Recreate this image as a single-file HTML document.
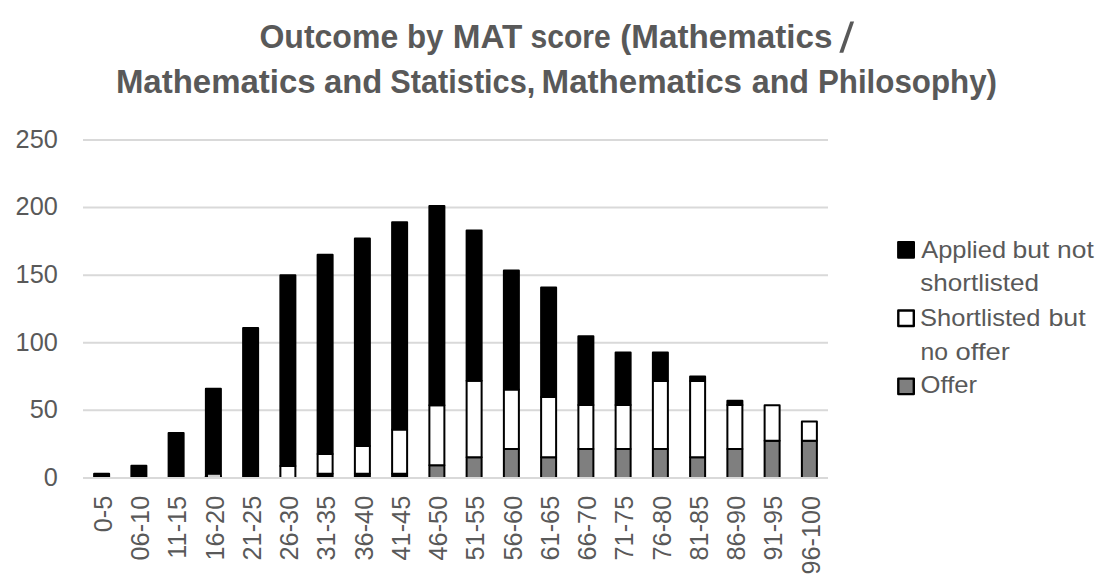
<!DOCTYPE html>
<html><head><meta charset="utf-8"><style>
html,body{margin:0;padding:0;background:#fff;width:1111px;height:576px;overflow:hidden}
svg{display:block}
text{font-family:"Liberation Sans",sans-serif;fill:#595959}
.ax{font-size:25.3px}
.ti{font-size:33px;font-weight:bold}
.lg{font-size:24.3px}
</style></head><body>
<svg width="1111" height="576" viewBox="0 0 1111 576">
<rect width="1111" height="576" fill="#fff"/>
<line x1="83" x2="828" y1="410.32" y2="410.32" stroke="#d9d9d9" stroke-width="2"/>
<line x1="83" x2="828" y1="342.74" y2="342.74" stroke="#d9d9d9" stroke-width="2"/>
<line x1="83" x2="828" y1="275.16" y2="275.16" stroke="#d9d9d9" stroke-width="2"/>
<line x1="83" x2="828" y1="207.58" y2="207.58" stroke="#d9d9d9" stroke-width="2"/>
<line x1="83" x2="828" y1="140.00" y2="140.00" stroke="#d9d9d9" stroke-width="2"/>
<rect x="94.12" y="473.80" width="15" height="4.10" fill="#000000" stroke="#000" stroke-width="2" stroke-linejoin="round"/>
<rect x="131.38" y="465.70" width="15" height="12.20" fill="#000000" stroke="#000" stroke-width="2" stroke-linejoin="round"/>
<rect x="168.62" y="432.90" width="15" height="45.00" fill="#000000" stroke="#000" stroke-width="2" stroke-linejoin="round"/>
<rect x="205.88" y="476.30" width="15" height="1.60" fill="#ffffff" stroke="#000" stroke-width="2" stroke-linejoin="round"/>
<rect x="205.88" y="388.80" width="15" height="87.50" fill="#000000" stroke="#000" stroke-width="2" stroke-linejoin="round"/>
<rect x="243.12" y="327.90" width="15" height="150.00" fill="#000000" stroke="#000" stroke-width="2" stroke-linejoin="round"/>
<rect x="280.38" y="466.00" width="15" height="11.90" fill="#ffffff" stroke="#000" stroke-width="2" stroke-linejoin="round"/>
<rect x="280.38" y="275.30" width="15" height="190.70" fill="#000000" stroke="#000" stroke-width="2" stroke-linejoin="round"/>
<rect x="317.62" y="473.80" width="15" height="4.10" fill="#000000" stroke="#000" stroke-width="2" stroke-linejoin="round"/>
<rect x="317.62" y="454.00" width="15" height="19.80" fill="#ffffff" stroke="#000" stroke-width="2" stroke-linejoin="round"/>
<rect x="317.62" y="254.70" width="15" height="199.30" fill="#000000" stroke="#000" stroke-width="2" stroke-linejoin="round"/>
<rect x="354.88" y="473.80" width="15" height="4.10" fill="#000000" stroke="#000" stroke-width="2" stroke-linejoin="round"/>
<rect x="354.88" y="446.00" width="15" height="27.80" fill="#ffffff" stroke="#000" stroke-width="2" stroke-linejoin="round"/>
<rect x="354.88" y="238.50" width="15" height="207.50" fill="#000000" stroke="#000" stroke-width="2" stroke-linejoin="round"/>
<rect x="392.12" y="473.80" width="15" height="4.10" fill="#000000" stroke="#000" stroke-width="2" stroke-linejoin="round"/>
<rect x="392.12" y="429.50" width="15" height="44.30" fill="#ffffff" stroke="#000" stroke-width="2" stroke-linejoin="round"/>
<rect x="392.12" y="222.30" width="15" height="207.20" fill="#000000" stroke="#000" stroke-width="2" stroke-linejoin="round"/>
<rect x="429.38" y="465.30" width="15" height="12.60" fill="#7f7f7f" stroke="#000" stroke-width="2" stroke-linejoin="round"/>
<rect x="429.38" y="405.20" width="15" height="60.10" fill="#ffffff" stroke="#000" stroke-width="2" stroke-linejoin="round"/>
<rect x="429.38" y="206.10" width="15" height="199.10" fill="#000000" stroke="#000" stroke-width="2" stroke-linejoin="round"/>
<rect x="466.62" y="457.30" width="15" height="20.60" fill="#7f7f7f" stroke="#000" stroke-width="2" stroke-linejoin="round"/>
<rect x="466.62" y="380.70" width="15" height="76.60" fill="#ffffff" stroke="#000" stroke-width="2" stroke-linejoin="round"/>
<rect x="466.62" y="230.40" width="15" height="150.30" fill="#000000" stroke="#000" stroke-width="2" stroke-linejoin="round"/>
<rect x="503.88" y="449.00" width="15" height="28.90" fill="#7f7f7f" stroke="#000" stroke-width="2" stroke-linejoin="round"/>
<rect x="503.88" y="389.50" width="15" height="59.50" fill="#ffffff" stroke="#000" stroke-width="2" stroke-linejoin="round"/>
<rect x="503.88" y="270.60" width="15" height="118.90" fill="#000000" stroke="#000" stroke-width="2" stroke-linejoin="round"/>
<rect x="541.12" y="457.30" width="15" height="20.60" fill="#7f7f7f" stroke="#000" stroke-width="2" stroke-linejoin="round"/>
<rect x="541.12" y="397.00" width="15" height="60.30" fill="#ffffff" stroke="#000" stroke-width="2" stroke-linejoin="round"/>
<rect x="541.12" y="287.50" width="15" height="109.50" fill="#000000" stroke="#000" stroke-width="2" stroke-linejoin="round"/>
<rect x="578.38" y="449.00" width="15" height="28.90" fill="#7f7f7f" stroke="#000" stroke-width="2" stroke-linejoin="round"/>
<rect x="578.38" y="405.00" width="15" height="44.00" fill="#ffffff" stroke="#000" stroke-width="2" stroke-linejoin="round"/>
<rect x="578.38" y="336.20" width="15" height="68.80" fill="#000000" stroke="#000" stroke-width="2" stroke-linejoin="round"/>
<rect x="615.62" y="449.00" width="15" height="28.90" fill="#7f7f7f" stroke="#000" stroke-width="2" stroke-linejoin="round"/>
<rect x="615.62" y="405.00" width="15" height="44.00" fill="#ffffff" stroke="#000" stroke-width="2" stroke-linejoin="round"/>
<rect x="615.62" y="352.50" width="15" height="52.50" fill="#000000" stroke="#000" stroke-width="2" stroke-linejoin="round"/>
<rect x="652.88" y="449.00" width="15" height="28.90" fill="#7f7f7f" stroke="#000" stroke-width="2" stroke-linejoin="round"/>
<rect x="652.88" y="381.00" width="15" height="68.00" fill="#ffffff" stroke="#000" stroke-width="2" stroke-linejoin="round"/>
<rect x="652.88" y="352.50" width="15" height="28.50" fill="#000000" stroke="#000" stroke-width="2" stroke-linejoin="round"/>
<rect x="690.12" y="457.30" width="15" height="20.60" fill="#7f7f7f" stroke="#000" stroke-width="2" stroke-linejoin="round"/>
<rect x="690.12" y="381.00" width="15" height="76.30" fill="#ffffff" stroke="#000" stroke-width="2" stroke-linejoin="round"/>
<rect x="690.12" y="376.60" width="15" height="4.40" fill="#000000" stroke="#000" stroke-width="2" stroke-linejoin="round"/>
<rect x="727.38" y="449.00" width="15" height="28.90" fill="#7f7f7f" stroke="#000" stroke-width="2" stroke-linejoin="round"/>
<rect x="727.38" y="405.00" width="15" height="44.00" fill="#ffffff" stroke="#000" stroke-width="2" stroke-linejoin="round"/>
<rect x="727.38" y="400.70" width="15" height="4.30" fill="#000000" stroke="#000" stroke-width="2" stroke-linejoin="round"/>
<rect x="764.62" y="440.70" width="15" height="37.20" fill="#7f7f7f" stroke="#000" stroke-width="2" stroke-linejoin="round"/>
<rect x="764.62" y="405.20" width="15" height="35.50" fill="#ffffff" stroke="#000" stroke-width="2" stroke-linejoin="round"/>
<rect x="801.88" y="440.70" width="15" height="37.20" fill="#7f7f7f" stroke="#000" stroke-width="2" stroke-linejoin="round"/>
<rect x="801.88" y="421.50" width="15" height="19.20" fill="#ffffff" stroke="#000" stroke-width="2" stroke-linejoin="round"/>
<rect x="208" y="474.8" width="12" height="2.2" fill="#d0d0d0"/>
<line x1="83" x2="828" y1="477.9" y2="477.9" stroke="#d9d9d9" stroke-width="2"/>
<text x="57.8" y="485.80" text-anchor="end" class="ax">0</text>
<text x="57.8" y="418.22" text-anchor="end" class="ax">50</text>
<text x="57.8" y="350.64" text-anchor="end" class="ax">100</text>
<text x="57.8" y="283.06" text-anchor="end" class="ax">150</text>
<text x="57.8" y="215.48" text-anchor="end" class="ax">200</text>
<text x="57.8" y="147.90" text-anchor="end" class="ax">250</text>
<text transform="translate(111.92,495.8) rotate(-90)" text-anchor="end" class="ax">0-5</text>
<text transform="translate(149.18,495.8) rotate(-90)" text-anchor="end" class="ax">06-10</text>
<text transform="translate(186.43,495.8) rotate(-90)" text-anchor="end" class="ax">11-15</text>
<text transform="translate(223.68,495.8) rotate(-90)" text-anchor="end" class="ax">16-20</text>
<text transform="translate(260.93,495.8) rotate(-90)" text-anchor="end" class="ax">21-25</text>
<text transform="translate(298.18,495.8) rotate(-90)" text-anchor="end" class="ax">26-30</text>
<text transform="translate(335.43,495.8) rotate(-90)" text-anchor="end" class="ax">31-35</text>
<text transform="translate(372.68,495.8) rotate(-90)" text-anchor="end" class="ax">36-40</text>
<text transform="translate(409.93,495.8) rotate(-90)" text-anchor="end" class="ax">41-45</text>
<text transform="translate(447.18,495.8) rotate(-90)" text-anchor="end" class="ax">46-50</text>
<text transform="translate(484.43,495.8) rotate(-90)" text-anchor="end" class="ax">51-55</text>
<text transform="translate(521.67,495.8) rotate(-90)" text-anchor="end" class="ax">56-60</text>
<text transform="translate(558.92,495.8) rotate(-90)" text-anchor="end" class="ax">61-65</text>
<text transform="translate(596.17,495.8) rotate(-90)" text-anchor="end" class="ax">66-70</text>
<text transform="translate(633.42,495.8) rotate(-90)" text-anchor="end" class="ax">71-75</text>
<text transform="translate(670.67,495.8) rotate(-90)" text-anchor="end" class="ax">76-80</text>
<text transform="translate(707.92,495.8) rotate(-90)" text-anchor="end" class="ax">81-85</text>
<text transform="translate(745.17,495.8) rotate(-90)" text-anchor="end" class="ax">86-90</text>
<text transform="translate(782.42,495.8) rotate(-90)" text-anchor="end" class="ax">91-95</text>
<text transform="translate(819.67,495.8) rotate(-90)" text-anchor="end" class="ax">96-100</text>
<text x="259.43" y="48.4" class="ti" textLength="138.77" lengthAdjust="spacingAndGlyphs">Outcome</text>
<text x="407.00" y="48.4" class="ti" textLength="36.54" lengthAdjust="spacingAndGlyphs">by</text>
<text x="452.89" y="48.4" class="ti" textLength="69.55" lengthAdjust="spacingAndGlyphs">MAT</text>
<text x="530.49" y="48.4" class="ti" textLength="80.18" lengthAdjust="spacingAndGlyphs">score</text>
<text x="620.29" y="48.4" class="ti" textLength="212.20" lengthAdjust="spacingAndGlyphs">(Mathematics</text>
<text x="115.90" y="92.8" class="ti" textLength="199.80" lengthAdjust="spacingAndGlyphs">Mathematics</text>
<text x="323.91" y="92.8" class="ti" textLength="58.25" lengthAdjust="spacingAndGlyphs">and</text>
<text x="390.37" y="92.8" class="ti" textLength="144.90" lengthAdjust="spacingAndGlyphs">Statistics,</text>
<text x="541.59" y="92.8" class="ti" textLength="200.41" lengthAdjust="spacingAndGlyphs">Mathematics</text>
<text x="751.72" y="92.8" class="ti" textLength="57.31" lengthAdjust="spacingAndGlyphs">and</text>
<text x="817.90" y="92.8" class="ti" textLength="179.15" lengthAdjust="spacingAndGlyphs">Philosophy)</text>
<polygon points="850.3,21.4 854.1,21.4 843.3,52.8 839.3,52.8" fill="#595959"/>
<rect x="898.3" y="242.1" width="15.5" height="15.5" fill="#000" stroke="#000" stroke-width="2.4" stroke-linejoin="round"/>
<rect x="898.3" y="310.5" width="15.5" height="15.5" fill="#fff" stroke="#000" stroke-width="2.4" stroke-linejoin="round"/>
<rect x="898.3" y="378.6" width="15.5" height="15.5" fill="#7f7f7f" stroke="#000" stroke-width="2.4" stroke-linejoin="round"/>
<text x="921.30" y="257.6" class="lg" textLength="84.71" lengthAdjust="spacingAndGlyphs">Applied</text>
<text x="1012.51" y="257.6" class="lg" textLength="36.85" lengthAdjust="spacingAndGlyphs">but</text>
<text x="1057.12" y="257.6" class="lg" textLength="36.65" lengthAdjust="spacingAndGlyphs">not</text>
<text x="920.23" y="291.0" class="lg" textLength="118.78" lengthAdjust="spacingAndGlyphs">shortlisted</text>
<text x="920.05" y="325.9" class="lg" textLength="120.38" lengthAdjust="spacingAndGlyphs">Shortlisted</text>
<text x="1048.40" y="325.9" class="lg" textLength="37.26" lengthAdjust="spacingAndGlyphs">but</text>
<text x="920.58" y="359.6" class="lg" textLength="27.57" lengthAdjust="spacingAndGlyphs">no</text>
<text x="955.57" y="359.6" class="lg" textLength="54.24" lengthAdjust="spacingAndGlyphs">offer</text>
<text x="920.55" y="393.3" class="lg" textLength="56.51" lengthAdjust="spacingAndGlyphs">Offer</text>
</svg>
</body></html>
